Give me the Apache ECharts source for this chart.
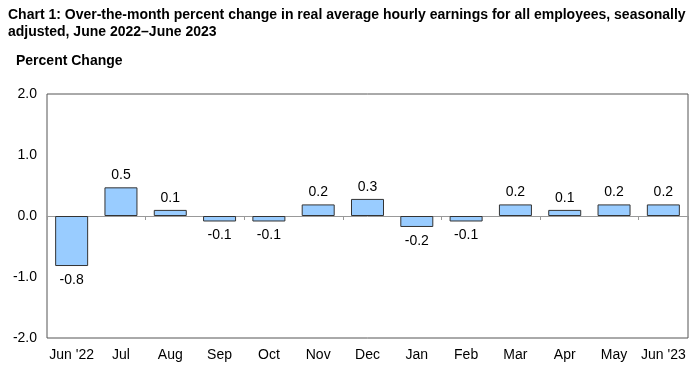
<!DOCTYPE html>
<html><head><meta charset="utf-8">
<script src="https://cdn.jsdelivr.net/npm/echarts@6/dist/echarts.min.js"></script>
<style>html,body{margin:0;padding:0;background:#fff}#c{width:700px;height:372px}</style>
</head><body><div id="c"></div>
<script>
const categories = ["Jun '22","Jul","Aug","Sep","Oct","Nov","Dec","Jan","Feb","Mar","Apr","May","Jun '23"];
const values = [-0.82, 0.47, 0.10, -0.09, -0.09, 0.19, 0.28, -0.18, -0.09, 0.19, 0.10, 0.19, 0.19];
const yTicks = [-2, -1, 0, 1, 2];
const titleLines = ["Chart 1: Over-the-month percent change in real average hourly earnings for all employees, seasonally", "adjusted, June 2022\u2013June 2023"];
const yAxisTitle = "Percent Change";

const font = "'Liberation Sans', Arial, sans-serif";
const chart = echarts.init(document.getElementById('c'), null, {renderer:'canvas'});
chart.setOption({
  animation:false,
  title:[
    {text:titleLines.join('\n'), left:3, top:2, textStyle:{fontFamily:font, fontSize:14, fontWeight:'bold', color:'#000', lineHeight:16.5}},
    {text:yAxisTitle, left:11, top:49, textStyle:{fontFamily:font, fontSize:14, fontWeight:'bold', color:'#000'}}
  ],
  grid:{left:47, right:12, top:94, bottom:34, show:true, borderColor:'#555', borderWidth:1, backgroundColor:'transparent'},
  xAxis:[
    {type:'category', data:categories, position:'bottom',
     axisLine:{onZero:true, lineStyle:{color:'#999', width:1}},
     axisTick:{show:true, length:4, lineStyle:{color:'#999'}},
     axisLabel:{show:false}},
    {type:'category', data:categories, position:'bottom',
     axisLine:{show:false, onZero:false}, axisTick:{show:false},
     axisLabel:{interval:0, fontFamily:font, fontSize:14, color:'#000', margin:10}}
  ],
  yAxis:{type:'value', min:yTicks[0], max:yTicks[yTicks.length-1], interval:1,
    splitLine:{show:false}, axisTick:{show:false}, axisLine:{show:false},
    axisLabel:{fontFamily:font, fontSize:14, color:'#000', margin:10, formatter:v=>v.toFixed(1)}},
  series:[{
    type:'bar', xAxisIndex:0, barWidth:33,
    itemStyle:{color:'#99CCFF', borderColor:'#333', borderWidth:1},
    data: values.map(v=>({value:v, label:{position: v>=0?'top':'bottom', distance: v>=0?5:7}})),
    label:{show:true, fontFamily:font, fontSize:14, color:'#000', formatter:p=>p.value.toFixed(1)}
  }]
});
</script></body></html>
